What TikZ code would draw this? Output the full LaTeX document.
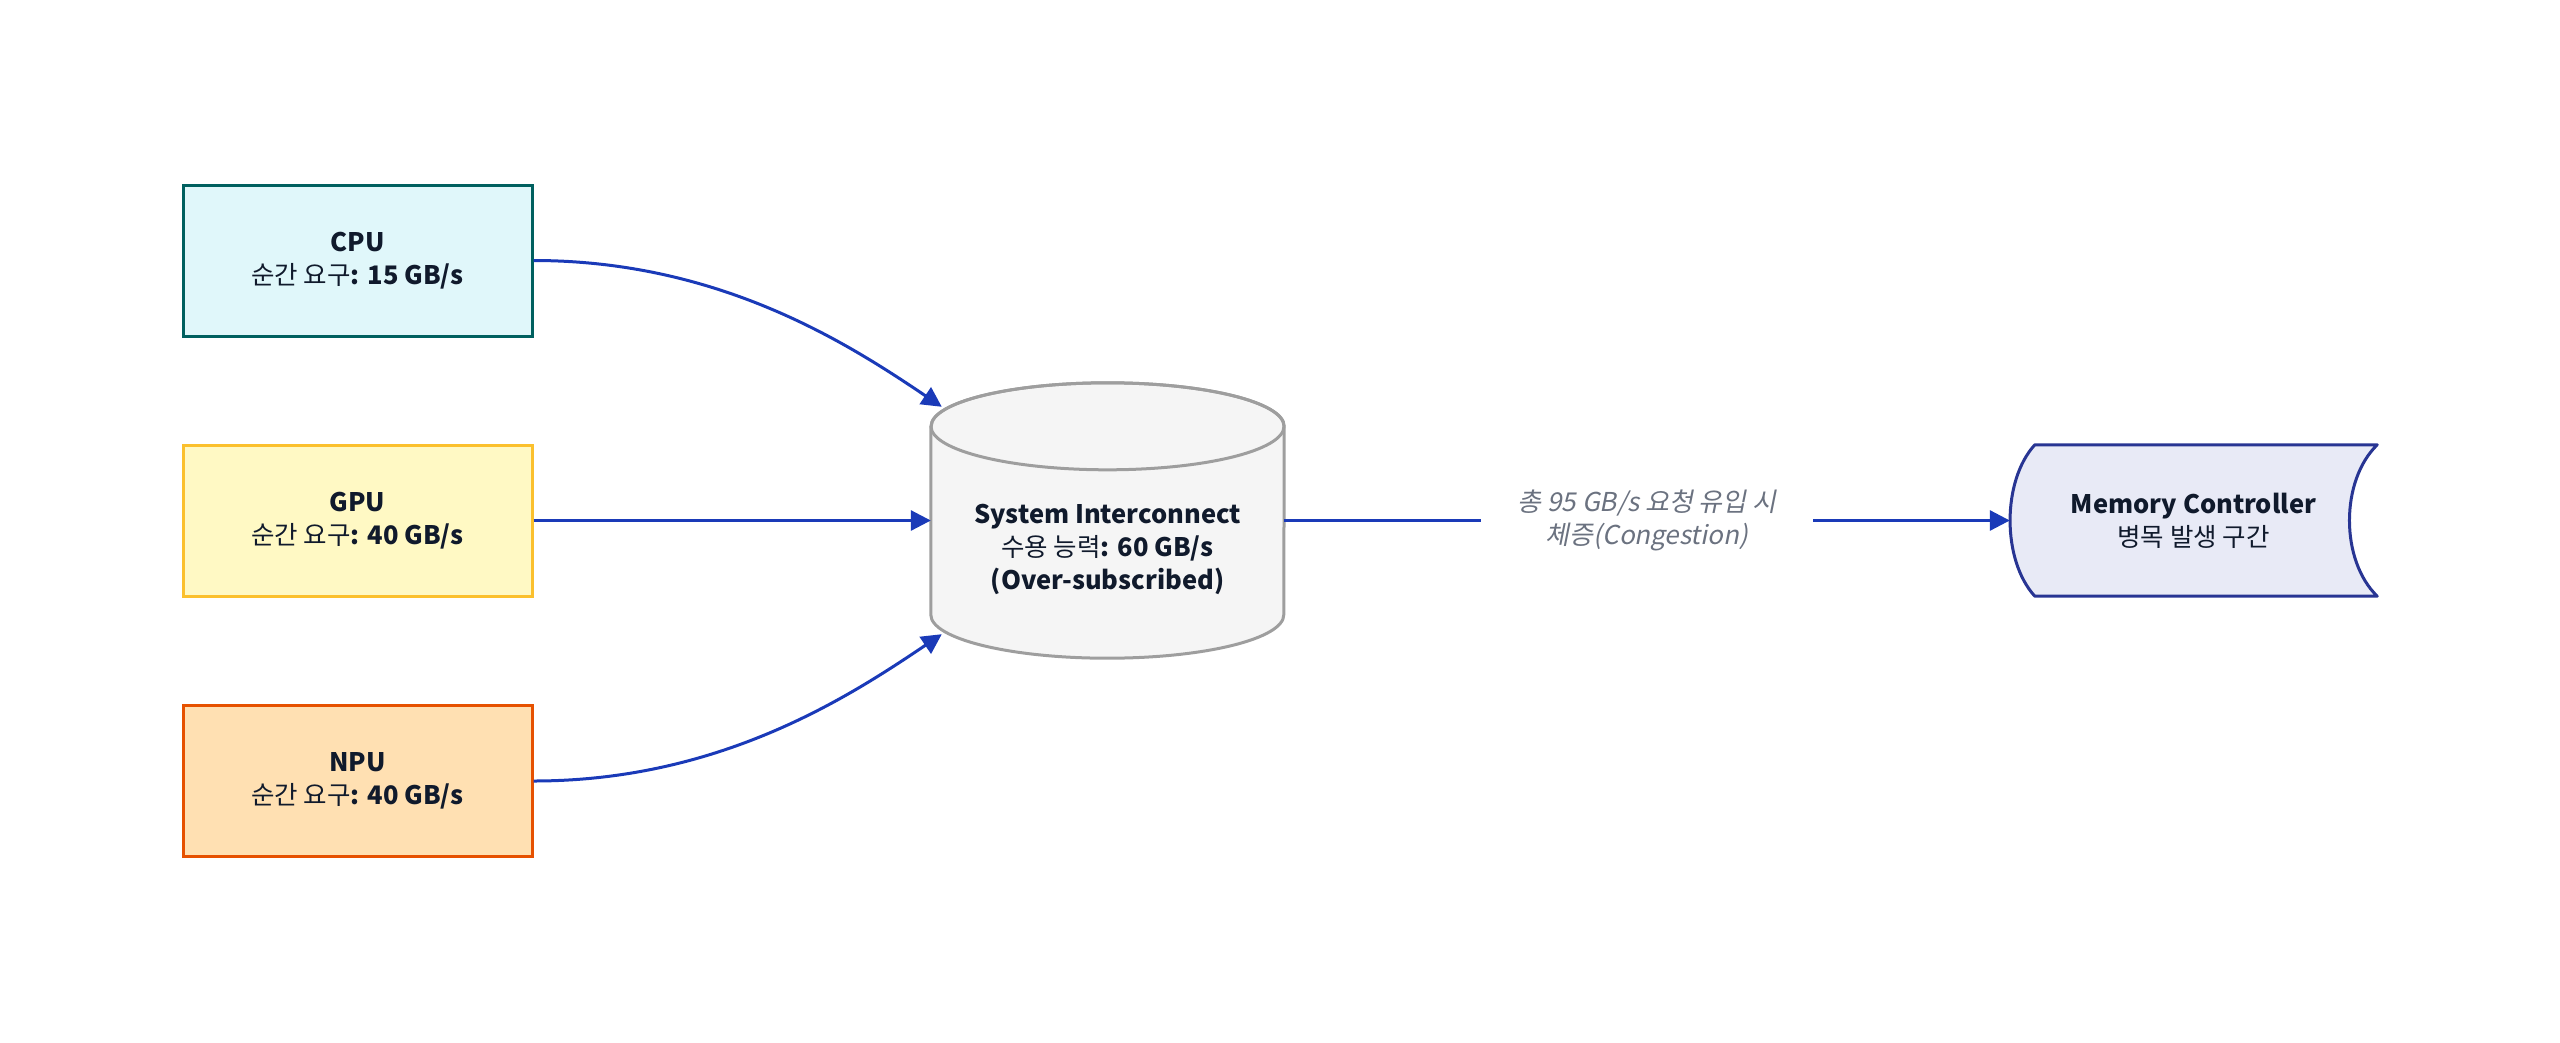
\documentclass[tikz,border=0pt]{standalone}
\usepackage{fontspec}
\setmainfont{Noto Sans CJK KR}
\newfontfamily\slantfont[FakeSlant=0.2]{Noto Sans CJK KR}
\usetikzlibrary{arrows.meta, calc, backgrounds}
\definecolor{mInk}{HTML}{101A2C}
\definecolor{mGrey}{HTML}{6B7280}
\definecolor{mFlow}{HTML}{1A3AB8}
\definecolor{cpuFill}{HTML}{E0F7FA}
\definecolor{cpuLine}{HTML}{00605F}
\definecolor{gpuFill}{HTML}{FFF9C4}
\definecolor{gpuLine}{HTML}{FBC02D}
\definecolor{npuFill}{HTML}{FFE0B2}
\definecolor{npuLine}{HTML}{E65100}
\definecolor{sysFill}{HTML}{F5F5F5}
\definecolor{sysLine}{HTML}{9E9E9E}
\definecolor{mcFill}{HTML}{E8EAF6}
\definecolor{mcLine}{HTML}{283593}

\begin{document}
\begin{tikzpicture}[
  x=1pt, y=-1pt,
  every node/.style={font=\fontsize{25.5}{33}\selectfont, align=center, text=mInk},
  unit/.style={
    rectangle,
    draw,
    line width=3pt,
    minimum width=349pt,
    minimum height=151pt
  },
  bus/.style={
    rectangle,
    minimum width=353pt,
    minimum height=275pt,
    text height=137pt,
    text depth=0pt
  },
  store/.style={
    rectangle,
    minimum width=367pt,
    minimum height=151pt
  },
  outline/.style={line width=3pt, line join=round},
  flow/.style={draw=mFlow, line width=3pt, -{Triangle[length=20pt, width=20pt]}},
  note/.style={
    font=\slantfont\fontsize{26}{33}\selectfont,
    text=mGrey,
    fill=white,
    inner xsep=37pt
  }
]
\useasboundingbox (0,0) rectangle (2560,1042);

\node[unit, draw=cpuLine, fill=cpuFill] (cpu) at (357.5,260.5)
{\textbf{CPU}\\순간 요구\textbf{: 15 GB/s}};
\node[unit, draw=gpuLine, fill=gpuFill] (gpu) at (357.5,520.5)
{\textbf{GPU}\\순간 요구\textbf{: 40 GB/s}};
\node[unit, draw=npuLine, fill=npuFill] (npu) at (357.5,781)
{\textbf{NPU}\\순간 요구\textbf{: 40 GB/s}};

\node[bus] (sys) at (1107.5,520.5)
{\textbf{System Interconnect}\\수용 능력\textbf{: 60 GB/s}\\\textbf{(Over-subscribed)}};

\node[store] (mc) at (2193.5,520.5)
{\textbf{Memory Controller}\\병목 발생 구간};

\begin{scope}[on background layer]
% cylinder
\draw[outline, draw=sysLine, fill=sysFill]
  ($(sys.north west)+(0,43.5)$) -- ($(sys.south west)+(0,-43.5)$)
  arc[start angle=180, end angle=0, x radius=176.5, y radius=43.5]
  -- ($(sys.north east)+(0,43.5)$)
  arc[start angle=0, end angle=-180, x radius=176.5, y radius=43.5] -- cycle;
\draw[outline, draw=sysLine] ($(sys.north)+(0,43.5)$) ellipse[x radius=176.5, y radius=43.5];
% stored data
\draw[outline, draw=mcLine, fill=mcFill]
  ($(mc.north west)+(25,0)$) -- (mc.north east)
  .. controls ($(mc.north east)+(-37,36)$) and ($(mc.south east)+(-37,-36)$) .. (mc.south east)
  -- ($(mc.south west)+(25,0)$)
  .. controls ($(mc.south west)+(-8,-36)$) and ($(mc.north west)+(-8,36)$) .. cycle;
\end{scope}

\draw[flow] (cpu.east) .. controls +(187,0) and +(-92,-62) .. ($(sys.north west)+(11,24)$);
\draw[flow] (gpu.east) -- (sys.west);
\draw[flow] (npu.east) .. controls +(187,0) and +(-92,62) .. ($(sys.south west)+(11,-24)$);

\draw[flow] (sys.east) -- node[note] {총 95 GB/s 요청 유입 시\\체증(Congestion)} (mc.west);

\end{tikzpicture}
\end{document}
